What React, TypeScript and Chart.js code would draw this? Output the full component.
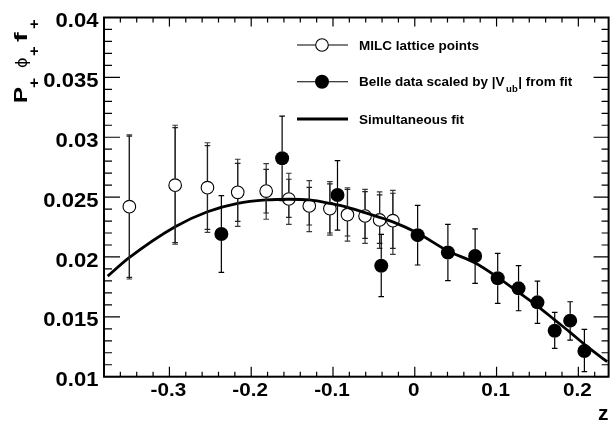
import React, { useEffect, useRef } from 'react';
import { Chart, registerables } from 'chart.js';

Chart.register(...registerables);

// ---- data ----
const milcZ = [-0.349, -0.293, -0.2535, -0.2165, -0.1817, -0.154, -0.129, -0.1038, -0.0823, -0.0608, -0.043, -0.0268];
const milcF = [0.0242, 0.026, 0.02579, 0.0254, 0.0255, 0.02484, 0.02426, 0.02403, 0.02353, 0.02342, 0.02309, 0.02303];
const milcLoTot = [0.01816, 0.02106, 0.02206, 0.02256, 0.02315, 0.02273, 0.02211, 0.02183, 0.02133, 0.02114, 0.02072, 0.02022];
const milcHiTot = [0.0302, 0.031, 0.02954, 0.02816, 0.02779, 0.02699, 0.02637, 0.02629, 0.02578, 0.02565, 0.02543, 0.02557];
const milcLoStat = [0.0183, 0.0212, 0.02231, 0.02298, 0.02367, 0.02331, 0.02267, 0.022, 0.02175, 0.02156, 0.02114, 0.02072];
const milcHiStat = [0.0301, 0.0308, 0.0293, 0.02782, 0.02732, 0.02649, 0.02582, 0.0261, 0.02565, 0.02545, 0.02518, 0.02532];

const belleZ = [-0.2365, -0.1622, -0.0945, -0.041, 0.0035, 0.0405, 0.0738, 0.1014, 0.1269, 0.15, 0.1711, 0.19, 0.2074];
const belleF = [0.02192, 0.02824, 0.02518, 0.01927, 0.02182, 0.02037, 0.02008, 0.01822, 0.01738, 0.01621, 0.01384, 0.01468, 0.01215];
const belleLo = [0.01872, 0.02471, 0.02225, 0.01668, 0.01933, 0.01802, 0.0178, 0.01613, 0.01551, 0.01446, 0.01237, 0.01306, 0.01042];
const belleHi = [0.02512, 0.03177, 0.02804, 0.02189, 0.02431, 0.02272, 0.02234, 0.0203, 0.01927, 0.01799, 0.01538, 0.01626, 0.01396];

const fitZ = [-0.3755, -0.35, -0.293, -0.2535, -0.2165, -0.1817, -0.154, -0.129, -0.104, -0.082, -0.061, -0.0276, 0.0033, 0.0405, 0.074, 0.1014, 0.127, 0.15, 0.171, 0.19, 0.2074, 0.2353];
const fitF = [0.0184, 0.0199, 0.02253, 0.02378, 0.02448, 0.02476, 0.02482, 0.02476, 0.02448, 0.02415, 0.0237, 0.02295, 0.022, 0.0205, 0.0195, 0.0183, 0.01705, 0.0159, 0.01475, 0.0137, 0.0127, 0.01125];

const xTickValues = [-0.3, -0.2, -0.1, 0, 0.1, 0.2];
const xTickLabels = ['-0.3', '-0.2', '-0.1', '0', '0.1', '0.2'];
const yTickValues = [0.01, 0.015, 0.02, 0.025, 0.03, 0.035, 0.04];
const yTickLabels = ['0.01', '0.015', '0.02', '0.025', '0.03', '0.035', '0.04'];

const legendLabels = ['MILC lattice points', 'Belle data scaled by |V', 'ub', '| from fit', 'Simultaneous fit'];

const X_MIN = -0.38;
const X_MAX = 0.237;
const Y_MIN = 0.01;
const Y_MAX = 0.04;

const SANS = '"Liberation Sans", Arial, Helvetica, sans-serif';

const rootPlugin = {
  id: 'rootStyle',
  afterDatasetsDraw(chart: any) {
    const ctx = chart.ctx as CanvasRenderingContext2D;
    const xs = chart.scales.x;
    const ys = chart.scales.y;
    const drawBars = (zs: number[], fs: number[], lo: number[], hi: number[], r: number, color: string, cap: number) => {
      ctx.save();
      ctx.strokeStyle = color;
      ctx.lineWidth = 1.2;
      for (let i = 0; i < zs.length; i++) {
        const px = xs.getPixelForValue(zs[i]);
        const py = ys.getPixelForValue(fs[i]);
        const pl = ys.getPixelForValue(lo[i]);
        const ph = ys.getPixelForValue(hi[i]);
        ctx.beginPath();
        if (ph < py - r) { ctx.moveTo(px, ph); ctx.lineTo(px, py - r); }
        if (pl > py + r) { ctx.moveTo(px, py + r); ctx.lineTo(px, pl); }
        ctx.moveTo(px - cap, ph); ctx.lineTo(px + cap, ph);
        ctx.moveTo(px - cap, pl); ctx.lineTo(px + cap, pl);
        ctx.stroke();
      }
      ctx.restore();
    };
    drawBars(milcZ, milcF, milcLoTot, milcHiTot, 6.3, '#3a3a3a', 2.8);
    drawBars(milcZ, milcF, milcLoStat, milcHiStat, 6.3, '#222', 2.8);
    drawBars(belleZ, belleF, belleLo, belleHi, 7, '#000', 2.8);
  },
  afterDraw(chart: any) {
    const ctx = chart.ctx as CanvasRenderingContext2D;
    const xs = chart.scales.x;
    const ys = chart.scales.y;
    const a = chart.chartArea;
    ctx.save();
    ctx.strokeStyle = '#000';
    ctx.fillStyle = '#000';

    // ticks
    ctx.lineWidth = 1.2;
    ctx.beginPath();
    for (let i = -19; i <= 12; i++) {
      const v = i * 0.02;
      if (v < X_MIN - 1e-9 || v > X_MAX + 1e-9) continue;
      const px = xs.getPixelForValue(v);
      const major = i % 5 === 0;
      const lb = major ? 10 : 5;
      const lt = major ? 9 : 5;
      ctx.moveTo(px, a.bottom); ctx.lineTo(px, a.bottom - lb);
      ctx.moveTo(px, a.top); ctx.lineTo(px, a.top + lt);
    }
    for (let i = 10; i <= 40; i++) {
      const v = i * 0.001;
      const py = ys.getPixelForValue(v);
      const major = i % 5 === 0;
      const ll = major ? 16 : 8;
      const lr = major ? 15 : 7;
      ctx.moveTo(a.left, py); ctx.lineTo(a.left + ll, py);
      ctx.moveTo(a.right, py); ctx.lineTo(a.right - lr, py);
    }
    ctx.stroke();

    // frame
    ctx.lineWidth = 2;
    ctx.strokeRect(a.left, a.top, a.right - a.left, a.bottom - a.top);

    // tick labels
    const stretched = (text: string, x: number, y: number, align: CanvasTextAlign, sx: number) => {
      ctx.save();
      ctx.translate(x, y);
      ctx.scale(sx, 1);
      ctx.textAlign = align;
      ctx.textBaseline = 'alphabetic';
      ctx.fillText(text, 0, 0);
      ctx.restore();
    };
    ctx.font = `bold 19.5px ${SANS}`;
    yTickValues.forEach((v, i) => {
      const py = ys.getPixelForValue(v);
      stretched(yTickLabels[i], a.left - 5.5, py + 9.6, 'right', 1.13);
    });
    ctx.font = `bold 18px ${SANS}`;
    xTickValues.forEach((v, i) => {
      const px = xs.getPixelForValue(v);
      stretched(xTickLabels[i], px - 1, a.bottom + 19.5, 'center', 1.15);
    });

    // x title
    ctx.font = `bold 21px ${SANS}`;
    ctx.textAlign = 'right';
    ctx.textBaseline = 'alphabetic';
    ctx.fillText('z', a.right, 420);

    // y title (rotated)
    ctx.save();
    ctx.translate(26.5, 103);
    ctx.rotate(-Math.PI / 2);
    const piece = (t: string, font: string, off: number, dy: number, sx: number) => {
      ctx.save();
      ctx.font = font;
      ctx.translate(off, dy);
      ctx.scale(sx, 1);
      ctx.textAlign = 'left';
      ctx.textBaseline = 'alphabetic';
      ctx.fillText(t, 0, 0);
      ctx.restore();
    };
    piece('P', `bold 18px ${SANS}`, 0, 0, 1.35);
    piece('+', `bold 15px ${SANS}`, 15, 12.5, 1.15);
    piece('\u03D5', `16px "DejaVu Sans", sans-serif`, 35, 0, 1.0);
    piece('+', `bold 15px ${SANS}`, 47, 12.5, 1.1);
    piece('f', `bold 18px ${SANS}`, 61, 0, 1.6);
    piece('+', `bold 15px ${SANS}`, 74, 12.5, 1.1);
    ctx.restore();

    // legend
    const lx1 = 297, lx2 = 348, lc = 322, tx = 359;
    const rows = [45, 81.7, 119];
    ctx.lineWidth = 1.1;
    // row 1: open circle
    ctx.beginPath();
    ctx.moveTo(lx1, rows[0]); ctx.lineTo(lc - 6.3, rows[0]);
    ctx.moveTo(lc + 6.3, rows[0]); ctx.lineTo(lx2, rows[0]);
    ctx.stroke();
    ctx.beginPath();
    ctx.arc(lc, rows[0], 6.3, 0, Math.PI * 2);
    ctx.stroke();
    // row 2: filled circle
    ctx.beginPath();
    ctx.moveTo(lx1, rows[1]); ctx.lineTo(lx2, rows[1]);
    ctx.stroke();
    ctx.beginPath();
    ctx.arc(lc, rows[1], 7, 0, Math.PI * 2);
    ctx.fill();
    // row 3: thick line
    ctx.lineWidth = 2.8;
    ctx.beginPath();
    ctx.moveTo(lx1, rows[2]); ctx.lineTo(lx2, rows[2]);
    ctx.stroke();

    ctx.textAlign = 'left';
    ctx.textBaseline = 'alphabetic';
    ctx.font = `bold 13.5px ${SANS}`;
    ctx.fillText(legendLabels[0], tx, rows[0] + 4.6);
    let x = tx;
    ctx.fillText(legendLabels[1], x, rows[1] + 4.6);
    x += ctx.measureText(legendLabels[1]).width + 1.5;
    ctx.font = `bold 9.5px ${SANS}`;
    ctx.fillText(legendLabels[2], x, rows[1] + 10.5);
    x += ctx.measureText(legendLabels[2]).width + 0.5;
    ctx.font = `bold 13.5px ${SANS}`;
    ctx.fillText(legendLabels[3], x, rows[1] + 4.6);
    ctx.fillText(legendLabels[4], tx, rows[2] + 4.6);

    ctx.restore();
  },
};

export default function App() {
  const canvasRef = useRef<HTMLCanvasElement | null>(null);

  useEffect(() => {
    const canvas = canvasRef.current;
    if (!canvas) return;
    const chart = new Chart(canvas, {
      type: 'scatter',
      data: {
        datasets: [
          {
            type: 'line',
            label: 'Simultaneous fit',
            data: fitZ.map((z, i) => ({ x: z, y: fitF[i] })),
            borderColor: '#000',
            borderWidth: 2.8,
            pointRadius: 0,
            fill: false,
            cubicInterpolationMode: 'monotone',
          } as any,
          {
            label: 'MILC lattice points',
            data: milcZ.map((z, i) => ({ x: z, y: milcF[i] })),
            pointStyle: 'circle',
            pointRadius: 6.3,
            borderWidth: 1.1,
            borderColor: '#000',
            backgroundColor: 'rgba(0,0,0,0)',
          },
          {
            label: 'Belle data',
            data: belleZ.map((z, i) => ({ x: z, y: belleF[i] })),
            pointStyle: 'circle',
            pointRadius: 7,
            borderWidth: 0,
            borderColor: '#000',
            backgroundColor: '#000',
          },
        ],
      },
      options: {
        animation: false,
        responsive: false,
        events: [],
        layout: { padding: { left: 0, right: 5, top: 17.5, bottom: 0 } },
        plugins: { legend: { display: false }, tooltip: { enabled: false } },
        scales: {
          x: {
            type: 'linear',
            min: X_MIN,
            max: X_MAX,
            ticks: { display: false },
            grid: { display: false, drawTicks: false },
            border: { display: false },
            afterFit: (s: any) => { s.height = 44.3; },
          },
          y: {
            type: 'linear',
            min: Y_MIN,
            max: Y_MAX,
            ticks: { display: false },
            grid: { display: false, drawTicks: false },
            border: { display: false },
            afterFit: (s: any) => { s.width = 104; },
          },
        },
      },
      plugins: [rootPlugin],
    });
    return () => chart.destroy();
  }, []);

  return (
    <div style={{ position: 'absolute', left: 0, top: 0, width: 616, height: 421, background: '#fff' }}>
      <canvas ref={canvasRef} width={616} height={421} />
    </div>
  );
}
